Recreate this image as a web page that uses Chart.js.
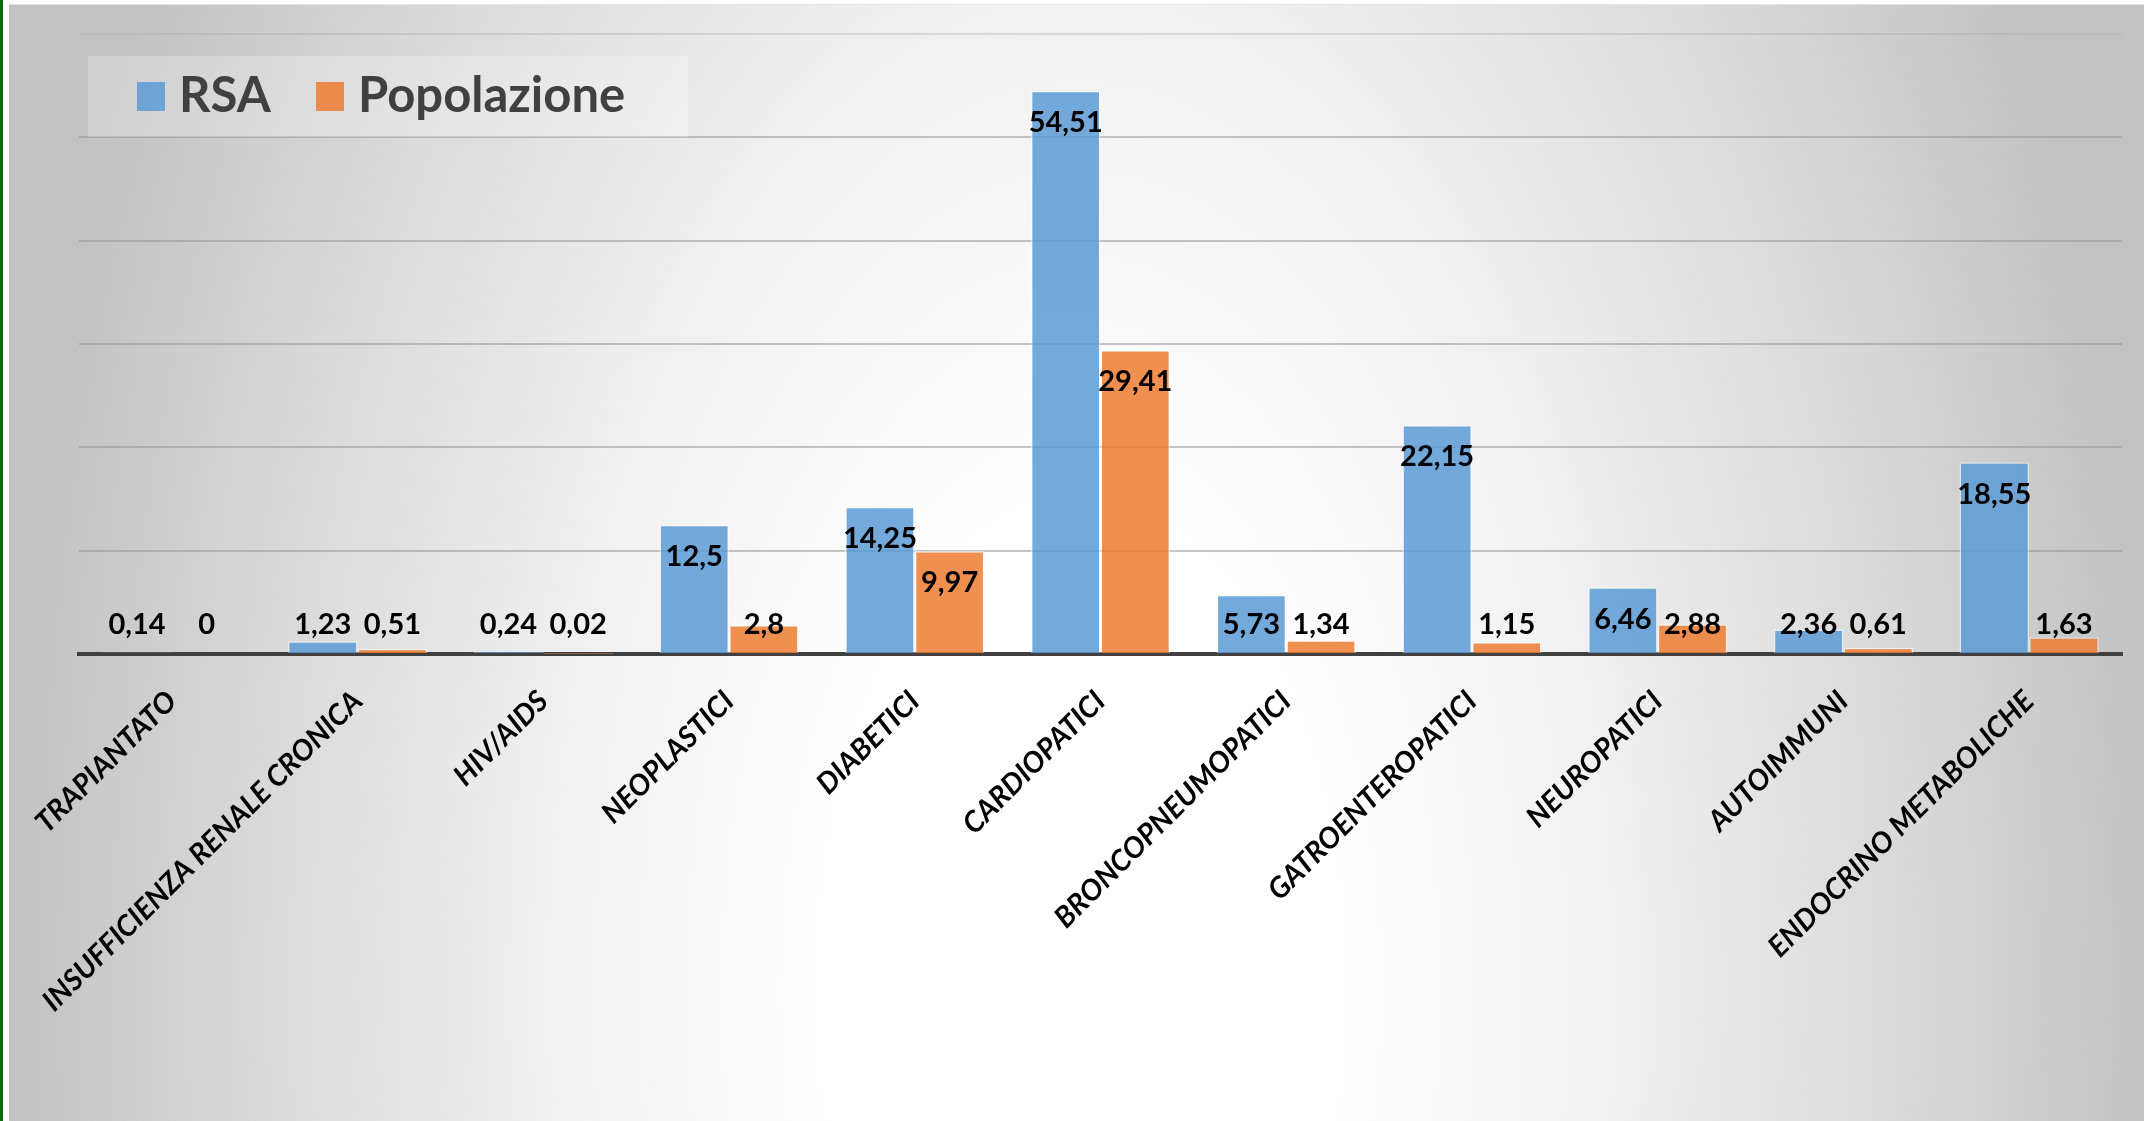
<!DOCTYPE html>
<html>
<head>
<meta charset="utf-8">
<script src="https://cdn.jsdelivr.net/npm/chart.js@4.4.1/dist/chart.umd.min.js"></script>
<style>
  html, body { margin: 0; padding: 0; background: #ffffff; }
  #wrap { position: relative; width: 2144px; height: 1121px; overflow: hidden; }
  #stripe { position: absolute; left: 0; top: 0; width: 3px; height: 1121px; background: #0b6b12; }
  #bg {
    position: absolute; left: 9px; top: 4px; right: 0; bottom: 0;
    border-top: 1px solid #e4e4e4;
    background: radial-gradient(ellipse 1075px 2000px at 1072px 985px,
      #ffffff 0%, #ffffff 24%, #f0f0f0 50%, #d6d6d6 80%, #c2c2c2 100%);
  }
  #chart { position: absolute; left: 0; top: 0; }
  #legend {
    position: absolute; left: 88px; top: 56px; width: 600px; height: 81px;
    background: rgba(255, 255, 255, 0.25);
    font-family: Lato, "Open Sans", sans-serif; font-weight: bold; font-size: 49px;
    color: #404040; line-height: 1;
  }
  #legend .sw { position: absolute; top: 26px; width: 28px; height: 29px; }
  #legend .txt { position: absolute; top: 13px; white-space: nowrap; }
</style>
</head>
<body>
<div id="wrap">
  <div id="stripe"></div>
  <div id="bg"></div>
  <canvas id="chart" width="2144" height="1121"></canvas>
  <div id="legend">
    <span class="sw" style="left:49px;background:rgba(91,155,213,0.85)"></span>
    <span class="txt" style="left:91px">RSA</span>
    <span class="sw" style="left:228px;background:rgba(237,125,49,0.85)"></span>
    <span class="txt" style="left:270px">Popolazione</span>
  </div>
</div>
<script>
const categories = [
    'TRAPIANTATO',
    'INSUFFICIENZA RENALE CRONICA',
    'HIV/AIDS',
    'NEOPLASTICI',
    'DIABETICI',
    'CARDIOPATICI',
    'BRONCOPNEUMOPATICI',
    'GATROENTEROPATICI',
    'NEUROPATICI',
    'AUTOIMMUNI',
    'ENDOCRINO METABOLICHE'
];
const rsaValues = [0.14, 1.23, 0.24, 12.5, 14.25, 54.51, 5.73, 22.15, 6.46, 2.36, 18.55];
const popValues = [0, 0.51, 0.02, 2.8, 9.97, 29.41, 1.34, 1.15, 2.88, 0.61, 1.63];
const seriesNames = ['RSA', 'Popolazione'];
const yMax = 60;
const yStep = 10;

// value labels: inside the top of the bar, pushed up above the axis for short bars
const valueLabels = {
    id: 'valueLabels',
    afterDatasetsDraw(chart) {
        const ctx = chart.ctx;
        const base = chart.scales.y.getPixelForValue(0);
        ctx.save();
        ctx.font = 'bold 29px Lato, "Open Sans", sans-serif';
        ctx.fillStyle = '#000000';
        ctx.textAlign = 'center';
        ctx.textBaseline = 'middle';
        chart.data.datasets.forEach((ds, i) => {
            chart.getDatasetMeta(i).data.forEach((bar, j) => {
                const y = Math.min(bar.y + 32, base - 29);
                ctx.fillText(String(ds.data[j]).replace('.', ','), bar.x, y);
            });
        });
        ctx.restore();
    }
};

new Chart(document.getElementById('chart').getContext('2d'), {
    type: 'bar',
    data: {
        labels: categories,
        datasets: [{
            label: seriesNames[0],
            data: rsaValues,
            backgroundColor: 'rgba(91,155,213,0.85)',
            borderColor: 'rgba(255,255,255,0.45)',
            borderWidth: 1.5
        }, {
            label: seriesNames[1],
            data: popValues,
            backgroundColor: 'rgba(237,125,49,0.85)',
            borderColor: 'rgba(255,255,255,0.45)',
            borderWidth: 1.5
        }]
    },
    options: {
        responsive: false,
        animation: false,
        layout: { padding: { left: 79, right: 22, top: 34, bottom: 0 } },
        datasets: {
            bar: { categoryPercentage: 0.75, barPercentage: 1.0 }
        },
        plugins: {
            legend: { display: false },
            tooltip: { enabled: false }
        },
        scales: {
            x: {
                z: 1,
                grid: { display: false, drawTicks: false },
                border: { display: true, color: '#404040', width: 4 },
                ticks: {
                    color: '#000000',
                    minRotation: 45,
                    maxRotation: 45,
                    autoSkip: false,
                    padding: 30,
                    font: { family: 'Lato, "Open Sans", sans-serif', size: 29, weight: 'bold', style: 'italic' }
                },
                afterFit(scale) {
                    scale.height = 467;
                    scale.paddingLeft = 0;
                    scale.paddingRight = 0;
                }
            },
            y: {
                min: 0,
                max: yMax,
                ticks: { display: false, stepSize: yStep },
                border: { display: false },
                grid: {
                    drawTicks: false,
                    lineWidth: 2,
                    color: (c) => c.tick.value === 0 ? 'rgba(0,0,0,0)'
                        : (c.tick.value === yMax ? 'rgba(170,170,170,0.35)' : 'rgba(150,150,150,0.55)')
                },
                afterFit(scale) {
                    scale.width = 0;
                }
            }
        }
    },
    plugins: [valueLabels]
});
</script>
</body>
</html>
